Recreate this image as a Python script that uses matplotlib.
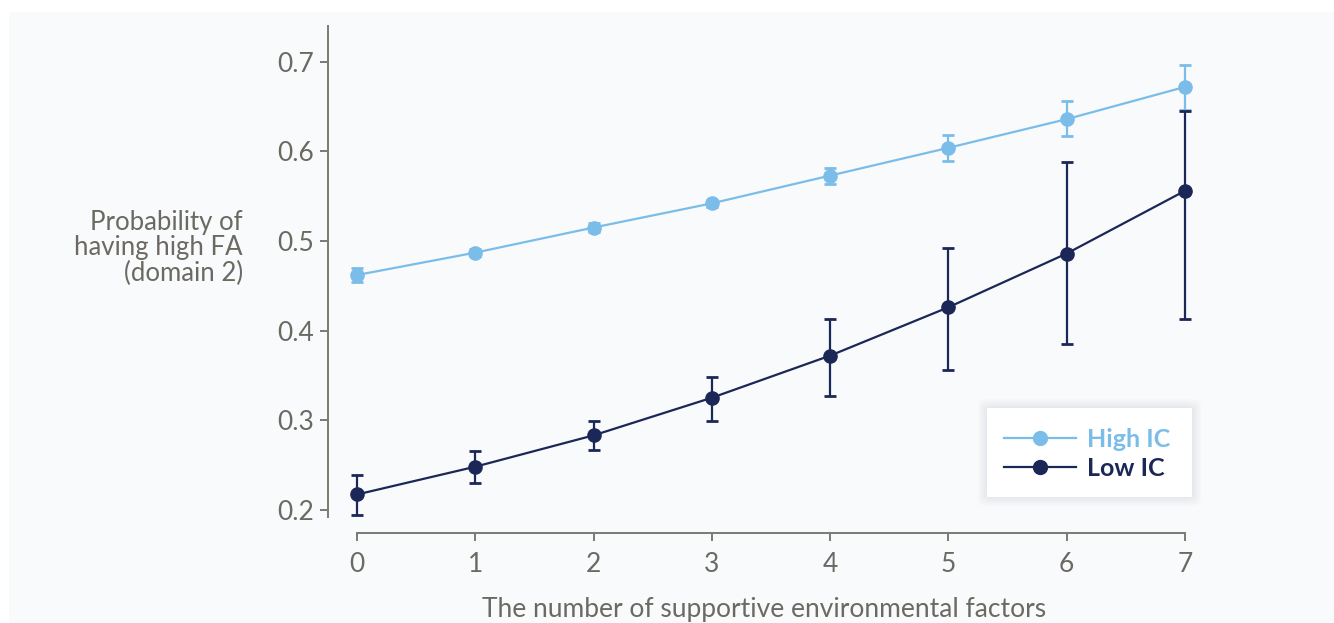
import numpy as np
import matplotlib.pyplot as plt
from matplotlib.patches import Rectangle, FancyBboxPatch
from matplotlib.lines import Line2D

factors = [0, 1, 2, 3, 4, 5, 6, 7]

high_ic = [0.462, 0.487, 0.515, 0.542, 0.573, 0.604, 0.636, 0.672]
high_lo = [0.454, 0.483, 0.510, 0.538, 0.564, 0.589, 0.617, 0.646]
high_hi = [0.470, 0.491, 0.520, 0.546, 0.582, 0.618, 0.656, 0.697]

low_ic = [0.217, 0.248, 0.283, 0.325, 0.372, 0.426, 0.486, 0.556]
low_lo = [0.194, 0.230, 0.267, 0.299, 0.327, 0.356, 0.385, 0.413]
low_hi = [0.239, 0.265, 0.299, 0.348, 0.413, 0.492, 0.588, 0.645]

yticks = [0.2, 0.3, 0.4, 0.5, 0.6, 0.7]

c_high = "#7bbde9"
c_low = "#1b2756"
c_text = "#6b6a62"
font = ["Lato", "DejaVu Sans"]

plt.rcParams["font.family"] = font

fig = plt.figure(figsize=(13.34, 6.23), dpi=100)
fig.patch.set_facecolor("white")
fig.patches.append(Rectangle((9 / 1334, 0), 1, 1 - 12 / 623, transform=fig.transFigure,
                             facecolor="#f9fafc", edgecolor="none", zorder=0))

# legend box with soft shadow
for i in range(6):
    d = 9 - 1.5 * i
    fig.patches.append(FancyBboxPatch(((987 - d) / 1334, 1 - (497 + d) / 623), (205 + 2 * d) / 1334,
                                      (89 + 2 * d) / 623, boxstyle="round,pad=0,rounding_size=0.008",
                                      transform=fig.transFigure, facecolor="#8090a0", alpha=0.025,
                                      edgecolor="none", zorder=1))
fig.patches.append(Rectangle((987 / 1334, 1 - 497 / 623), 205 / 1334, 89 / 623, transform=fig.transFigure,
                             facecolor="white", edgecolor="none", zorder=2))

ax = fig.add_axes([328 / 1334, 90 / 623, 872 / 1334, 507 / 623])
ax.set_facecolor("none")
ax.set_zorder(5)


def errs(v, lo, hi):
    v = np.array(v)
    return [v - np.array(lo), np.array(hi) - v]


ax.errorbar(factors, high_ic, yerr=errs(high_ic, high_lo, high_hi), color=c_high, lw=1.6,
            marker="o", ms=9.5, capsize=4.5, capthick=2, elinewidth=1.6, zorder=3)
ax.errorbar(factors, low_ic, yerr=errs(low_ic, low_lo, low_hi), color=c_low, lw=1.6,
            marker="o", ms=9.5, capsize=4.5, capthick=2, elinewidth=1.6, zorder=4)

ax.set_xlim(-0.245, 7.127)
ax.set_ylim(0.174, 0.740)
for s in ["top", "right"]:
    ax.spines[s].set_visible(False)
for s in ["left", "bottom"]:
    ax.spines[s].set_color("#7a7a72")
    ax.spines[s].set_linewidth(1.4)
ax.spines["left"].set_bounds(0.192, 0.740)
ax.spines["bottom"].set_bounds(0, 7)

ax.set_xticks(factors)
ax.set_xticklabels([str(f) for f in factors])
ax.set_yticks(yticks)
ax.set_yticklabels(["%.1f" % y for y in yticks])
ax.tick_params(axis="both", colors="#7a7a72", labelcolor=c_text, labelsize=19, length=6, width=1.4)
ax.tick_params(axis="y", pad=4)
ax.tick_params(axis="x", pad=8)

ax.set_xlabel("The number of supportive environmental factors", fontsize=19, color=c_text, labelpad=14)
fig.text(243 / 1334, 1 - 248 / 623, "Probability of\nhaving high FA\n(domain 2)", ha="right", va="center",
         fontsize=18.5, color=c_text, linespacing=1.0)

handles = [Line2D([], [], color=c_high, lw=1.6, marker="o", ms=10),
           Line2D([], [], color=c_low, lw=1.6, marker="o", ms=10)]
leg = ax.legend(handles, ["High IC", "Low IC"], loc="upper left",
                bbox_to_anchor=((981 - 328) / 872, (1 - 405 / 623 - 90 / 623) / (507 / 623)),
                frameon=False, handlelength=2.9, handletextpad=0.45, labelspacing=0.25,
                prop={"family": font, "weight": "bold", "size": 18})
for t, c in zip(leg.get_texts(), [c_high, c_low]):
    t.set_color(c)

fig.savefig("out.png", dpi=100, facecolor=fig.get_facecolor())
